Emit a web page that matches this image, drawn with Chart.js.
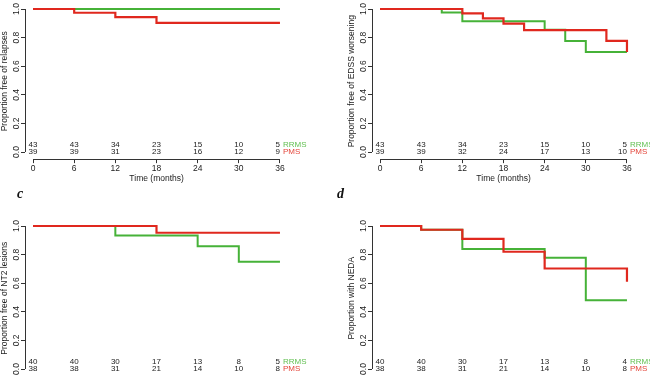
<!DOCTYPE html>
<html>
<head>
<meta charset="utf-8">
<script src="https://cdn.jsdelivr.net/npm/chart.js@4/dist/chart.umd.min.js"></script>
<style>
  html, body { margin: 0; padding: 0; background: #fff; overflow: hidden; width: 650px; height: 375px; position: relative; }
  canvas { position: absolute; }
  .tag { position: absolute; font: italic bold 14px "Liberation Serif", "DejaVu Serif", serif; line-height: 14px; color: #111; }
</style>
</head>
<body>
<canvas id="chartA" width="325" height="190" style="left:0px;top:0px"></canvas>
<canvas id="chartB" width="303" height="190" style="left:347px;top:0px"></canvas>
<canvas id="chartC" width="325" height="190" style="left:0px;top:217px"></canvas>
<canvas id="chartD" width="303" height="190" style="left:347px;top:217px"></canvas>
<div class="tag" style="left:17px;top:187px">c</div>
<div class="tag" style="left:337px;top:187px">d</div>
<script>

var timeTicks = [0, 6, 12, 18, 24, 30, 36];
var propTicks = [0, 0.2, 0.4, 0.6, 0.8, 1.0];

// a: free of relapses
var relTimesRRMS = [0, 36];
var relSurvRRMS  = [1, 1];
var relTimesPMS  = [0, 6, 12, 18, 36];
var relSurvPMS   = [1, 0.974, 0.944, 0.903, 0.903];
var relRiskRRMS  = [43, 43, 34, 23, 15, 10, 5];
var relRiskPMS   = [39, 39, 31, 23, 16, 12, 9];

// b: free of EDSS worsening
var edssTimesRRMS = [0, 9, 12, 24, 27, 30, 36];
var edssSurvRRMS  = [1, 0.976, 0.915, 0.855, 0.777, 0.70, 0.70];
var edssTimesPMS  = [0, 12, 15, 18, 21, 33, 36];
var edssSurvPMS   = [1, 0.970, 0.935, 0.898, 0.853, 0.777, 0.70];
var edssRiskRRMS  = [43, 43, 34, 23, 15, 10, 5];
var edssRiskPMS   = [39, 39, 32, 24, 17, 13, 10];

// c: free of NT2 lesions
var nt2TimesRRMS = [0, 12, 24, 30, 36];
var nt2SurvRRMS  = [1, 0.933, 0.858, 0.750, 0.750];
var nt2TimesPMS  = [0, 18, 36];
var nt2SurvPMS   = [1, 0.953, 0.953];
var nt2RiskRRMS  = [40, 40, 30, 17, 13, 8, 5];
var nt2RiskPMS   = [38, 38, 31, 21, 14, 10, 8];

// d: NEDA
var nedaTimesRRMS = [0, 6, 12, 24, 30, 36];
var nedaSurvRRMS  = [1, 0.974, 0.840, 0.778, 0.480, 0.480];
var nedaTimesPMS  = [0, 6, 12, 18, 24, 36];
var nedaSurvPMS   = [1, 0.974, 0.910, 0.820, 0.703, 0.610];
var nedaRiskRRMS  = [40, 40, 30, 17, 13, 8, 4];
var nedaRiskPMS   = [38, 38, 31, 21, 14, 10, 8];

var green = '#46b238';
var red = '#e0281e';
var txt = '#222';
var fontFam = '"Liberation Sans", Arial, sans-serif';

function toPoints(times, surv) {
  var pts = [];
  for (var i = 0; i < times.length; i++) pts.push({ x: times[i], y: surv[i] });
  return pts;
}

function al(p) { return Math.round(p - 0.5) + 0.5; }

// R-style axis lines (only between first and last tick) + numbers at risk
var rAxes = {
  id: 'rAxes',
  afterDraw: function(chart, args, opts) {
    var ctx = chart.ctx, xs = chart.scales.x, ys = chart.scales.y, a = chart.chartArea;
    ctx.save();
    ctx.strokeStyle = '#333';
    ctx.lineWidth = 1;
    ctx.beginPath();
    ctx.moveTo(al(a.left), ys.getPixelForValue(0));
    ctx.lineTo(al(a.left), ys.getPixelForValue(1));
    ctx.moveTo(xs.getPixelForValue(0), al(a.bottom));
    ctx.lineTo(xs.getPixelForValue(36), al(a.bottom));
    ctx.stroke();

    ctx.font = '8px ' + fontFam;
    ctx.textBaseline = 'middle';
    var rows = [
      { vals: opts.riskR, y: ys.getPixelForValue(0.05), name: 'RRMS', col: '#62c052' },
      { vals: opts.riskP, y: ys.getPixelForValue(0.0), name: 'PMS', col: '#e4463b' }
    ];
    rows.forEach(function(r) {
      for (var i = 0; i < timeTicks.length; i++) {
        var px = xs.getPixelForValue(timeTicks[i]);
        ctx.fillStyle = txt;
        if (i === timeTicks.length - 1) {
          ctx.textAlign = 'right';
          ctx.fillText(String(r.vals[i]), px, r.y);
          ctx.textAlign = 'left';
          ctx.fillStyle = r.col;
          ctx.fillText(r.name, px + 3, r.y);
        } else {
          ctx.textAlign = 'center';
          ctx.fillText(String(r.vals[i]), px, r.y);
        }
      }
    });
    ctx.restore();
  }
};

function makeKM(id, yTitle, tR, sR, tP, sP, riskR, riskP, padRight) {
  return new Chart(document.getElementById(id), {
    type: 'line',
    data: {
      datasets: [
        { label: 'PMS', data: toPoints(tP, sP), borderColor: red, borderWidth: 2.2, stepped: true, pointRadius: 0, fill: false },
        { label: 'RRMS', data: toPoints(tR, sR), borderColor: green, borderWidth: 2, stepped: true, pointRadius: 0, fill: false }
      ]
    },
    options: {
      responsive: false,
      animation: false,
      devicePixelRatio: 1,
      layout: { padding: { top: 3.3, right: padRight, bottom: 0, left: 0 } },
      plugins: {
        legend: { display: false },
        tooltip: { enabled: false },
        rAxes: { riskR: riskR, riskP: riskP }
      },
      scales: {
        x: {
          type: 'linear',
          min: -1.17,
          max: 37.2,
          border: { display: false },
          grid: { drawOnChartArea: false, drawTicks: true, tickLength: 4, color: '#333' },
          afterBuildTicks: function(s) { s.ticks = timeTicks.map(function(v) { return { value: v }; }); },
          afterFit: function(s) { s.height = 30.85; },
          ticks: { color: txt, padding: 0, maxRotation: 0, font: { family: fontFam, size: 8.5 } },
          title: { display: true, text: 'Time (months)', color: txt, padding: { top: 0, bottom: 5.9 }, font: { family: fontFam, size: 8.5 } }
        },
        y: {
          type: 'linear',
          min: -0.05,
          max: 1.04,
          border: { display: false },
          grid: { drawOnChartArea: false, drawTicks: true, tickLength: 4, color: '#333' },
          afterBuildTicks: function(s) { s.ticks = propTicks.map(function(v) { return { value: v }; }); },
          afterFit: function(s) { s.width = 25; },
          ticks: {
            color: txt, padding: -2, minRotation: 90, maxRotation: 90, crossAlign: 'center',
            font: { family: fontFam, size: 8.5 },
            callback: function(v) { return Number(v).toFixed(1); }
          },
          title: { display: true, text: yTitle, color: txt, padding: { top: 0, bottom: 0 }, font: { family: fontFam, size: 8.5 } }
        }
      }
    },
    plugins: [rAxes]
  });
}

makeKM('chartA', 'Proportion free of relapses', relTimesRRMS, relSurvRRMS, relTimesPMS, relSurvPMS, relRiskRRMS, relRiskPMS, 36.8);
makeKM('chartB', 'Proportion free of EDSS worsening', edssTimesRRMS, edssSurvRRMS, edssTimesPMS, edssSurvPMS, edssRiskRRMS, edssRiskPMS, 14.8);
makeKM('chartC', 'Proportion free of NT2 lesions', nt2TimesRRMS, nt2SurvRRMS, nt2TimesPMS, nt2SurvPMS, nt2RiskRRMS, nt2RiskPMS, 36.8);
makeKM('chartD', 'Proportion with NEDA', nedaTimesRRMS, nedaSurvRRMS, nedaTimesPMS, nedaSurvPMS, nedaRiskRRMS, nedaRiskPMS, 14.8);
</script>
</body>
</html>
